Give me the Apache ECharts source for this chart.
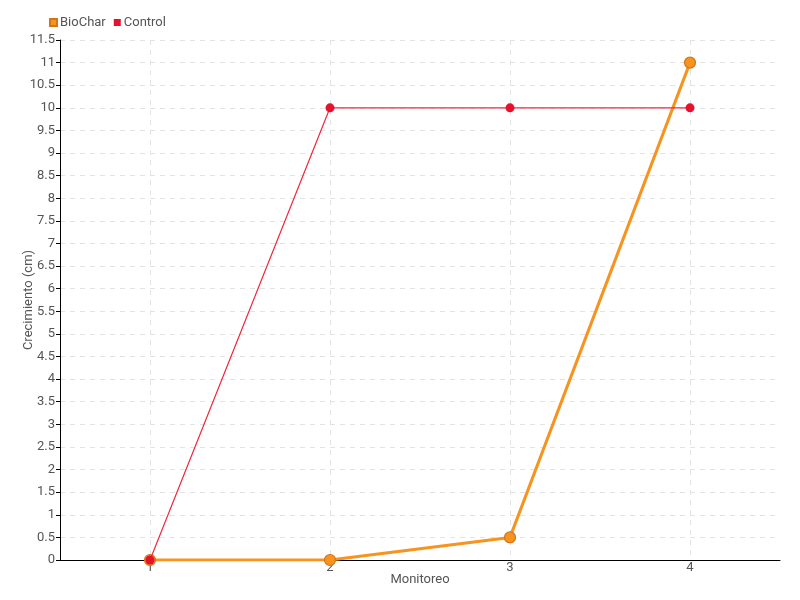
<!DOCTYPE html>
<html><head><meta charset="utf-8">
<script src="https://cdn.jsdelivr.net/npm/echarts@6/dist/echarts.min.js"></script>
<style>html,body{margin:0;padding:0;background:#fff}#c{width:800px;height:600px}</style>
</head><body><div id="c"></div>
<script>
const categories = ['1', '2', '3', '4'];
const bioChar = [0, 0, 0.5, 11];
const control = [0, 10, 10, 10];
const seriesNames = ['BioChar', 'Control'];

const FONT = "Roboto, 'Noto Sans', sans-serif";
const chart = echarts.init(document.getElementById('c'));
chart.setOption({
  animation: false,
  textStyle: { fontFamily: FONT },
  legend: {
    left: 44, top: 11, itemWidth: 7, itemHeight: 7, itemGap: 8,
    icon: 'rect',
    textStyle: { fontFamily: FONT, fontSize: 13, color: '#555', padding: [0, 0, 0, -2] },
    data: seriesNames
  },
  grid: { left: 60, right: 20, top: 40, bottom: 40, containLabel: false },
  xAxis: {
    type: 'category', data: categories, boundaryGap: true,
    name: 'Monitoreo', nameLocation: 'middle', nameGap: 13, nameMoveOverlap: false,
    nameTextStyle: { fontFamily: FONT, fontSize: 13, color: '#555' },
    axisLine: { lineStyle: { color: '#000', width: 1 } },
    axisTick: { alignWithLabel: true, length: 4, lineStyle: { color: '#000' } },
    axisLabel: { fontFamily: FONT, fontSize: 13, color: '#555', margin: 1 },
    splitLine: { show: true, alignWithLabel: true, lineStyle: { color: '#e3e3e3', type: [5, 5] } }
  },
  yAxis: {
    type: 'value', min: 0, max: 11.5, interval: 0.5,
    name: 'Crecimiento (cm)', nameLocation: 'middle', nameGap: 25, nameMoveOverlap: false,
    nameTextStyle: { fontFamily: FONT, fontSize: 13, color: '#555' },
    axisLine: { show: true, lineStyle: { color: '#000', width: 1 } },
    axisTick: { show: true, length: 4, lineStyle: { color: '#000' } },
    axisLabel: { fontFamily: FONT, fontSize: 13, color: '#555', margin: 5 },
    splitLine: { show: true, lineStyle: { color: '#e3e3e3', type: [5, 5] } }
  },
  series: [
    {
      name: seriesNames[0], type: 'line', data: bioChar, z: 2,
      symbol: 'circle', symbolSize: 11,
      lineStyle: { color: '#f7931e', width: 3 },
      itemStyle: { color: '#f7931e', borderColor: '#d2761a', borderWidth: 1.2 }
    },
    {
      name: seriesNames[1], type: 'line', data: control, z: 3,
      symbol: 'circle', symbolSize: 9,
      lineStyle: { color: '#f0283c', width: 1.2 },
      itemStyle: { color: '#e8112d', borderColor: '#e8112d', borderWidth: 0 }
    }
  ]
});
</script></body></html>
